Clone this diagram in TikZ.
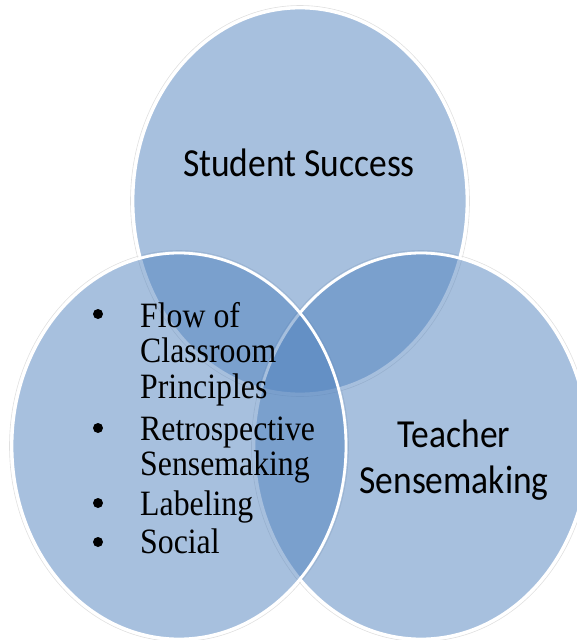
\documentclass[tikz,border=0pt]{standalone}
\usepackage{fontspec}
\setmainfont{Carlito}
\newfontfamily\listfont{Liberation Serif}
\definecolor{vennblue}{HTML}{4F81BD}
\newcommand\tall[1]{\scalebox{1}[1.12]{#1}}

\begin{document}
\begin{tikzpicture}[x=1pt,y=-1pt,
    venn/.style={fill=vennblue,fill opacity=0.5,draw=white,line width=2.8pt},
    halo/.style={draw=black!12,line width=0.6pt},
    setlabel/.style={font=\fontsize{35.5}{40}\selectfont,inner sep=0pt},
    listline/.style={anchor=base west,inner sep=0pt,font=\listfont\fontsize{31.8}{36}\selectfont},
    dot/.style={circle,fill=black,inner sep=0pt,minimum size=10pt}]
\useasboundingbox (0,0) rectangle (576,640);
% faint rings round the sets
\draw[halo] (300,201) ellipse [x radius=169.5pt,y radius=195.5pt];
\draw[halo] (421,446) ellipse [x radius=169.5pt,y radius=195.5pt];
\draw[halo] (179,446) ellipse [x radius=169.5pt,y radius=195.5pt];
% the three sets
\draw[venn] (300,201) ellipse [x radius=167pt,y radius=193pt];
\draw[venn] (421,446) ellipse [x radius=167pt,y radius=193pt];
\draw[venn] (179,446) ellipse [x radius=167pt,y radius=193pt];
% labels
\node[setlabel,anchor=base] (student) at (299,176) {\tall{Student Success}};
\node[setlabel,anchor=base] (teacher) at (454,447) {\tall{Teacher}};
\node[setlabel,anchor=base] (sensemaking) at (454,493) {\tall{Sensemaking}};
% list in the left set
\foreach \y/\txt [count=\i] in {327/Flow of,362/Classroom,398/Principles,
    440/Retrospective,475/Sensemaking,515/Labeling,553/Social}
  \node[listline] (line\i) at (140,\y) {\tall{\txt}};
\foreach \y [count=\i] in {314,428,503,542}
  \node[dot] (bullet\i) at (98,\y) {};
\end{tikzpicture}
\end{document}
